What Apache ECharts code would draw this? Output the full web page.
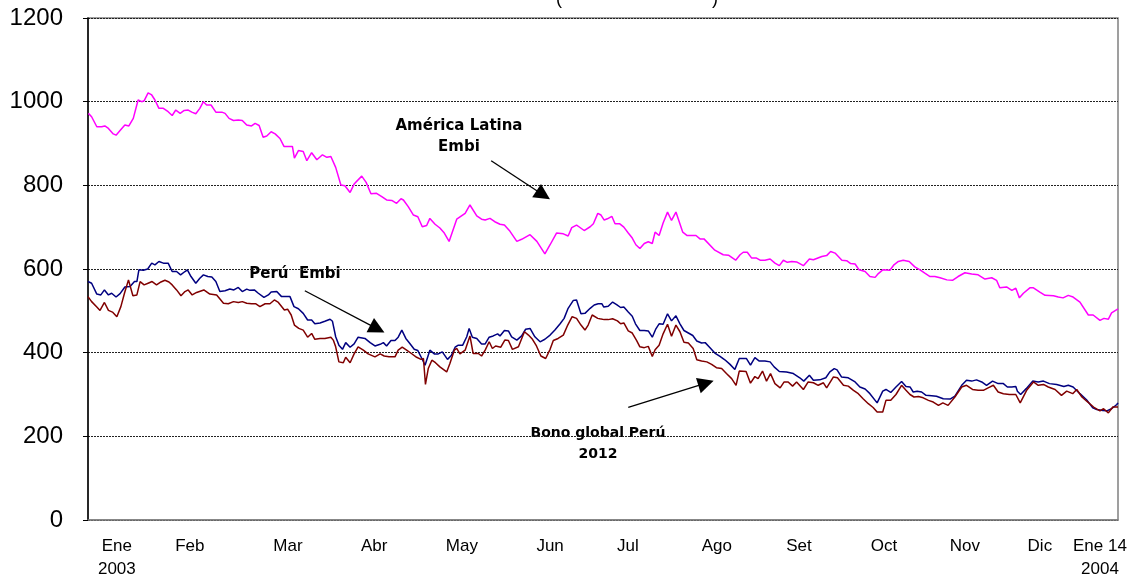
<!DOCTYPE html>
<html><head><meta charset="utf-8">
<script src="https://cdn.jsdelivr.net/npm/echarts@6/dist/echarts.min.js"></script>
<style>html,body{margin:0;padding:0;background:#fff}#c{width:1127px;height:575px}</style>
</head><body><div id="c"></div>
<script>
// x = trading-day number since 2 Jan 2003 (0 .. 257 = 14 Jan 2004)
const monthTickDay = [7.2, 25.4, 49.9, 71.4, 93.3, 115.3, 134.7, 156.9, 177.4, 198.6, 218.8, 237.5, 252.5];
const monthTickLabel = ['Ene\n2003', 'Feb', 'Mar', 'Abr', 'May', 'Jun', 'Jul', 'Ago', 'Set', 'Oct', 'Nov', 'Dic', 'Ene 14\n2004'];
const yTicks = [0, 200, 400, 600, 800, 1000, 1200];

const latamDay = [0.1,0.9,2.2,3.4,4.2,5.1,6.3,7.0,8.0,9.2,10.2,11.3,12.5,13.4,14.0,15.0,15.9,16.7,17.7,18.8,20.0,21.0,21.9,23.0,24.0,25.0,25.9,26.9,27.9,28.8,29.6,30.7,31.9,33.4,34.2,35.2,36.3,37.5,38.5,39.6,40.8,41.7,42.7,43.7,44.6,45.7,46.7,47.9,48.9,50.0,51.0,51.5,52.5,53.7,54.6,55.8,57.1,58.5,59.6,60.6,61.8,63.1,64.1,65.4,66.4,68.3,69.4,70.6,72.0,73.3,74.5,75.8,77.0,78.1,78.7,79.9,81.2,82.3,83.4,84.5,85.3,86.6,87.8,88.9,90.1,92.0,94.1,95.3,97.0,98.2,99.1,100.3,101.5,102.8,103.9,105.3,107.0,108.2,110.3,112.0,114.0,115.3,116.9,118.6,119.8,120.7,121.9,122.5,123.8,125.3,126.1,127.2,128.0,128.8,129.6,130.7,131.5,132.7,133.7,134.8,135.8,136.7,137.7,138.8,139.8,140.8,141.5,142.5,143.5,144.6,145.6,146.7,148.4,149.5,151.7,152.7,153.7,156.4,158.5,159.8,161.6,162.7,163.5,164.5,165.6,166.8,167.7,168.9,170.2,171.4,172.5,173.5,174.5,175.6,176.8,178.5,180.0,181.0,183.1,184.3,185.3,186.4,188.1,189.3,190.3,191.4,192.4,193.9,195.1,196.4,197.2,198.3,200.1,201.1,202.2,203.4,204.9,206.3,207.6,208.8,210.1,211.3,212.6,214.3,215.7,217.1,218.8,220.5,222.1,223.8,225.5,226.7,227.5,229.2,230.5,231.5,232.4,233.4,235.0,235.9,237.5,238.8,240.9,242.1,243.3,244.6,245.8,247.5,249.6,250.8,252.5,253.5,254.6,255.4,256.7,257.0];
const latamBps = [972,964,940,940,942,936,923,920,931,944,942,960,1004,1000,1002,1021,1016,1004,984,984,976,967,980,972,979,980,975,971,984,1000,992,992,975,975,972,960,955,956,955,944,942,948,943,915,918,928,923,912,893,893,893,865,883,881,859,878,861,873,867,869,843,801,799,783,803,822,807,780,781,773,765,764,757,768,765,749,729,725,701,704,721,707,698,686,666,719,733,753,727,719,717,721,713,707,705,690,666,671,682,666,636,658,686,684,679,699,705,701,692,701,708,733,729,717,720,726,708,708,700,686,674,658,649,661,665,661,688,680,710,736,716,736,688,680,680,672,672,645,634,633,621,634,640,640,626,626,621,621,624,614,608,621,616,618,617,608,624,622,630,632,642,638,621,620,613,612,598,594,582,580,589,598,597,610,618,621,618,605,598,590,582,582,579,574,573,582,591,588,586,576,579,573,555,557,549,554,531,542,555,555,545,537,536,533,531,537,533,521,490,490,477,482,480,495,503,505];

const peruEmbiDay = [0,0.9,2.2,3.2,4.1,5.1,5.9,7.0,8.0,9.2,10.5,11.6,12.2,12.7,13.8,14.9,15.9,16.7,17.7,18.8,20.0,21.0,22.1,23.1,24.2,24.8,25.7,26.9,27.9,28.8,29.9,30.9,31.9,32.9,34.2,35.4,36.4,37.5,38.5,39.6,40.4,41.5,42.5,43.9,45.0,45.7,47.1,48.3,49.6,50.4,51.4,52.5,53.7,54.8,55.8,56.6,57.9,59.1,60.4,61.0,61.8,62.6,63.5,64.3,65.4,66.4,67.4,69.1,70.4,71.6,72.9,73.7,74.5,75.6,76.6,77.4,78.3,79.3,80.3,81.4,82.3,83.3,84.1,84.5,85.3,86.4,87.4,88.4,89.7,90.7,91.6,92.4,93.5,94.5,95.1,95.9,97.0,98.2,99.1,100.1,101.1,102.2,102.8,103.9,104.9,105.7,107.0,108.2,109.2,110.3,111.5,112.8,114.0,115.3,116.5,117.8,118.8,119.8,121.1,121.9,123.0,124.0,125.3,126.3,127.3,128.2,128.7,129.8,130.9,131.9,132.9,133.7,134.8,135.8,136.6,137.7,138.8,139.8,140.8,141.7,142.5,143.5,144.6,145.6,146.7,147.7,148.7,149.8,150.9,151.9,153.1,154.0,155.2,156.4,157.7,158.9,160.2,161.4,162.5,164.3,165.3,166.4,167.5,168.9,170.2,171.2,172.5,174.3,176.0,177.6,178.6,180.0,181.0,182.6,184.1,185.1,186.2,186.9,188.0,189.7,191.4,192.6,193.9,195.1,196.9,198.3,199.1,200.3,201.6,203.0,204.1,205.1,205.9,206.9,208.0,209.1,210.5,211.7,213.4,215.1,216.3,218.0,219.2,220.5,221.7,223.0,224.2,225.7,227.1,228.4,229.4,230.5,231.5,231.9,232.7,234.1,235.7,237.1,238.4,239.9,241.7,243.5,244.6,245.8,247.5,249.2,250.7,251.7,253.2,254.2,255.4,256.7,257.0];
const peruEmbiBps = [570,566,540,538,550,538,542,533,541,557,558,570,570,598,597,600,614,610,618,614,614,594,594,586,594,598,582,566,578,586,582,581,570,546,548,552,550,556,546,552,549,550,542,532,538,545,546,534,534,534,510,505,494,478,478,469,471,475,480,475,438,418,408,424,413,421,437,434,424,416,420,424,416,429,429,437,454,434,422,408,405,386,370,374,406,397,397,402,384,394,413,418,418,438,458,437,434,421,421,437,440,445,440,453,452,438,430,440,456,458,438,426,432,442,454,469,482,506,525,526,493,494,506,514,517,517,509,511,521,515,508,509,497,487,469,453,453,452,437,457,469,468,493,476,488,469,453,447,441,428,423,424,412,399,391,383,372,360,386,386,370,388,380,380,378,366,355,354,350,340,332,346,334,335,340,354,362,359,342,340,330,318,313,302,280,308,312,305,318,331,319,318,306,308,306,298,297,296,290,289,296,322,334,332,335,330,322,332,326,326,318,318,319,308,300,314,332,330,332,326,324,319,322,318,302,287,268,264,262,261,266,276,280];

const bonoDay = [0,0.9,2.2,3.0,4.1,5.1,6.1,7.2,8.2,9.1,10.1,11.2,12.2,13.0,14.0,15.0,16.0,17.1,18.2,19.2,20.2,21.0,22.1,23.2,24.2,25.0,26.0,27.1,28.9,30.4,32.1,33.8,35.0,36.3,37.5,38.5,39.6,40.8,41.8,42.9,44.2,45.4,46.5,47.5,49.0,49.8,50.7,51.5,52.6,53.7,54.8,55.8,56.6,57.9,59.1,60.6,61.2,61.8,62.6,63.7,64.3,65.4,66.4,67.4,68.7,69.9,71.6,72.9,73.9,75.1,76.6,77.4,78.4,79.5,80.7,82.0,83.1,83.7,84.2,84.9,85.8,86.7,87.8,89.5,90.3,91.4,92.0,92.8,94.1,95.3,96.1,97.4,98.2,99.1,100.1,100.9,101.7,103.0,104.0,104.9,105.9,107.4,108.9,109.9,110.9,111.9,113.0,114.2,115.3,116.1,117.3,118.6,119.7,120.8,121.9,123.0,124.0,124.8,125.8,127.2,127.7,128.8,129.8,130.9,132.1,132.9,133.7,134.8,135.8,136.9,137.7,138.8,139.8,140.8,141.5,142.5,143.5,144.6,145.6,146.7,147.7,148.7,149.8,151.0,151.9,153.1,154.4,155.6,156.8,158.1,159.3,160.6,161.7,162.5,164.2,165.3,166.4,167.2,168.3,169.3,170.3,171.4,172.7,173.7,174.7,175.8,176.8,178.5,179.7,181.0,182.2,183.5,184.3,186.0,187.0,188.5,189.7,191.0,192.2,193.4,194.7,195.9,196.9,198.3,199.1,200.3,201.6,203.0,204.1,205.1,206.1,207.2,208.4,209.7,210.9,212.2,213.3,214.6,216.3,218.0,219.2,220.7,222.1,223.4,224.6,225.9,227.1,228.4,229.9,231.5,232.6,234.2,235.9,237.1,238.4,239.6,241.3,242.9,244.2,245.7,246.7,248.0,249.2,250.9,252.5,253.4,254.6,255.7,257.0];
const bonoBps = [534,522,509,501,520,501,497,486,510,542,574,536,538,570,562,566,570,562,569,573,569,562,550,536,546,550,538,544,550,540,538,518,517,522,520,522,518,517,517,510,517,517,526,520,502,504,490,466,458,454,437,446,432,434,434,437,430,414,378,376,389,376,397,414,406,397,390,397,392,390,390,406,413,406,398,389,384,386,324,362,382,376,366,354,374,406,410,397,406,440,398,398,392,406,426,410,416,413,430,429,408,414,450,442,432,416,392,386,408,429,434,442,466,486,482,466,454,466,490,482,481,479,479,481,476,469,471,452,447,429,414,412,415,391,407,418,445,468,439,466,450,425,423,410,383,380,378,372,364,362,350,338,322,356,355,327,343,338,356,332,350,326,316,330,330,320,330,312,330,328,322,328,316,342,340,322,320,310,302,290,278,269,258,258,286,286,300,322,310,300,294,295,292,286,282,274,280,274,294,318,322,312,310,310,316,322,306,302,300,300,280,310,330,322,324,318,312,298,308,302,312,294,284,270,261,266,256,270,270];

const zip = (xs, ys) => xs.map((x, i) => [x, ys[i]]);
const FONT = 'Liberation Sans, Arial, sans-serif';
const BOLD = 'DejaVu Sans, Verdana, sans-serif';

const chart = echarts.init(document.getElementById('c'), null, {renderer: 'canvas'});
chart.setOption({
  animation: false,
  backgroundColor: '#fff',
  grid: {left: 88, right: 9, top: 18, bottom: 55, show: true, borderColor: '#808080', borderWidth: 1.5,
         containLabel: false, outerBoundsMode: 'none'},
  xAxis: {
    type: 'value', min: 0, max: 257,
    axisLine: {show: true, onZero: false, lineStyle: {color: '#808080', width: 1.5}},
    axisTick: {show: false},
    splitLine: {show: false},
    axisLabel: {
      show: true, customValues: monthTickDay, margin: 15, color: '#000',
      fontFamily: FONT, fontSize: 17, lineHeight: 23,
      formatter: function (v) {
        let best = -1, bd = 1e9;
        monthTickDay.forEach((d, i) => { const e = Math.abs(d - v); if (e < bd) { bd = e; best = i; } });
        return bd < 0.5 ? monthTickLabel[best] : '';
      }
    }
  },
  yAxis: {
    type: 'value', min: yTicks[0], max: yTicks[yTicks.length - 1], interval: 200,
    axisLine: {show: true, lineStyle: {color: '#000', width: 1.5}},
    axisTick: {show: true, length: 5, lineStyle: {color: '#000'}},
    splitLine: {show: true, lineStyle: {color: '#222', type: [2, 1], width: 1}},
    axisLabel: {color: '#000', fontFamily: FONT, fontSize: 24, margin: 25, formatter: v => String(v)}
  },
  series: [
    {
      name: 'América Latina Embi', type: 'line', data: zip(latamDay, latamBps),
      showSymbol: false, lineStyle: {color: '#FF00FF', width: 1.5}, itemStyle: {color: '#FF00FF'},
      markLine: {
        silent: true, symbol: ['none', 'triangle'], symbolSize: 16,
        label: {show: false},
        lineStyle: {color: '#000', width: 1.3, type: 'solid'},
        itemStyle: {color: '#000'},
        emphasis: {disabled: true},
        data: [
          [{coord: [100.6, 858.9]}, {coord: [113.6, 777]}],
          [{coord: [54.1, 548]}, {coord: [72.2, 457]}],
          [{coord: [134.8, 269.4]}, {coord: [154.2, 327]}]
        ]
      }
    },
    {
      name: 'Perú Embi', type: 'line', data: zip(peruEmbiDay, peruEmbiBps),
      showSymbol: false, lineStyle: {color: '#000080', width: 1.5}, itemStyle: {color: '#000080'}
    },
    {
      name: 'Bono global Perú 2012', type: 'line', data: zip(bonoDay, bonoBps),
      showSymbol: false, lineStyle: {color: '#800000', width: 1.5}, itemStyle: {color: '#800000'}
    }
  ],
  graphic: [
    {type: 'text', x: 637, y: 8, style: {text: '(                              )', font: '18px ' + FONT, fill: '#000', align: 'center', verticalAlign: 'bottom'}},
    {type: 'text', x: 459, y: 126, style: {text: 'América Latina', font: 'bold 15px ' + BOLD, fill: '#000', align: 'center', verticalAlign: 'middle'}},
    {type: 'text', x: 459, y: 147, style: {text: 'Embi', font: 'bold 15px ' + BOLD, fill: '#000', align: 'center', verticalAlign: 'middle'}},
    {type: 'text', x: 295, y: 274, style: {text: 'Perú  Embi', font: 'bold 15px ' + BOLD, fill: '#000', align: 'center', verticalAlign: 'middle'}},
    {type: 'text', x: 598, y: 433, style: {text: 'Bono global Perú', font: 'bold 14px ' + BOLD, fill: '#000', align: 'center', verticalAlign: 'middle'}},
    {type: 'text', x: 598, y: 454, style: {text: '2012', font: 'bold 14px ' + BOLD, fill: '#000', align: 'center', verticalAlign: 'middle'}}
  ]
});
</script>
</body></html>
